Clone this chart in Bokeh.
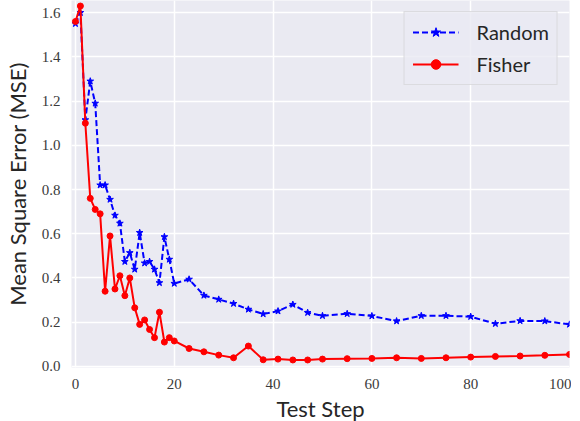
from bokeh.plotting import figure
from bokeh.models import Range1d, FixedTicker, Legend, LegendItem, ColumnDataSource, NumeralTickFormatter
from bokeh.embed import file_html
from bokeh.resources import INLINE

steps = list(range(0, 21)) + [23, 26, 29, 32, 35, 38, 41, 44, 47, 50,
                              55, 60, 65, 70, 75, 80, 85, 90, 95, 100]

random_mse = [1.55, 1.60, 1.115, 1.29, 1.19, 0.82, 0.82, 0.755, 0.683, 0.647,
              0.474, 0.514, 0.439, 0.605, 0.467, 0.474, 0.439, 0.378, 0.586, 0.484,
              0.375,
              0.394, 0.321, 0.303, 0.284, 0.258, 0.237, 0.25, 0.28, 0.243, 0.229,
              0.238, 0.228, 0.205, 0.229, 0.229, 0.225, 0.193, 0.206, 0.205, 0.19]

fisher_mse = [1.56, 1.63, 1.10, 0.76, 0.71, 0.69, 0.34, 0.59, 0.35, 0.41,
              0.32, 0.40, 0.265, 0.19, 0.21, 0.167, 0.13, 0.245, 0.11, 0.13,
              0.115,
              0.081, 0.066, 0.051, 0.039, 0.092, 0.030, 0.033, 0.029, 0.029, 0.033,
              0.035, 0.036, 0.039, 0.036, 0.039, 0.042, 0.045, 0.047, 0.050, 0.054]

x_ticks = [0, 20, 40, 60, 80, 100]
y_ticks = [0.0, 0.2, 0.4, 0.6, 0.8, 1.0, 1.2, 1.4, 1.6]

src = ColumnDataSource(dict(x=steps, r=random_mse, f=fisher_mse))

p = figure(frame_width=498, frame_height=367, output_backend="svg", toolbar_location=None,
           x_range=Range1d(-0.8, 100), y_range=Range1d(-0.005, 1.655),
           min_border_left=40, min_border_right=2, min_border_top=0,
           min_border_bottom=30)

p.background_fill_color = "#EAEAF2"
p.border_fill_color = "white"
p.outline_line_color = None
p.grid.grid_line_color = "white"
p.grid.grid_line_width = 1.5

p.xaxis.ticker = FixedTicker(ticks=x_ticks)
p.yaxis.ticker = FixedTicker(ticks=y_ticks)
p.yaxis.formatter = NumeralTickFormatter(format="0.0")
p.xaxis.formatter = NumeralTickFormatter(format="0")

for ax in (p.xaxis, p.yaxis):
    ax.axis_line_color = None
    ax.major_tick_line_color = None
    ax.minor_tick_line_color = None
    ax.major_tick_out = 0
    ax.major_tick_in = 0
    ax.minor_tick_out = 0
    ax.minor_tick_in = 0
    ax.major_label_text_font = "Liberation Serif"
    ax.major_label_text_font_size = "15px"
    ax.major_label_text_color = "#3a3a3a"
    ax.axis_label_text_font = "Lato"
    ax.axis_label_text_font_size = "22px"
    ax.axis_label_text_font_style = "normal"
    ax.axis_label_text_color = "#262626"

p.xaxis.major_label_standoff = 11
p.yaxis.major_label_standoff = 11
p.xaxis.axis_label = "Test Step"
p.yaxis.axis_label = "Mean Square Error (MSE)"
p.xaxis.axis_label_standoff = 3
p.yaxis.axis_label_standoff = 8

r_line = p.line("x", "r", source=src, line_color="blue", line_width=2, line_dash="6 3")
r_mark = p.scatter("x", "r", source=src, marker="star", size=7, color="blue")
f_line = p.line("x", "f", source=src, line_color="red", line_width=2)
f_mark = p.scatter("x", "f", source=src, marker="circle", size=6, color="red")

legend = Legend(items=[LegendItem(label="Random", renderers=[r_line, r_mark]),
                       LegendItem(label="Fisher", renderers=[f_line, f_mark])],
                location="top_right")
legend.label_text_font = "Lato"
legend.label_text_font_size = "20px"
legend.label_text_color = "#262626"
legend.background_fill_color = "#EAEAF2"
legend.background_fill_alpha = 0.8
legend.border_line_color = "#CCCCCC"
legend.border_line_width = 1
legend.glyph_width = 46
legend.glyph_height = 24
legend.label_standoff = 18
legend.padding = 8
legend.spacing = 8
legend.margin = 11
p.add_layout(legend, "center")

open("out.html", "w").write(file_html(p, INLINE))
